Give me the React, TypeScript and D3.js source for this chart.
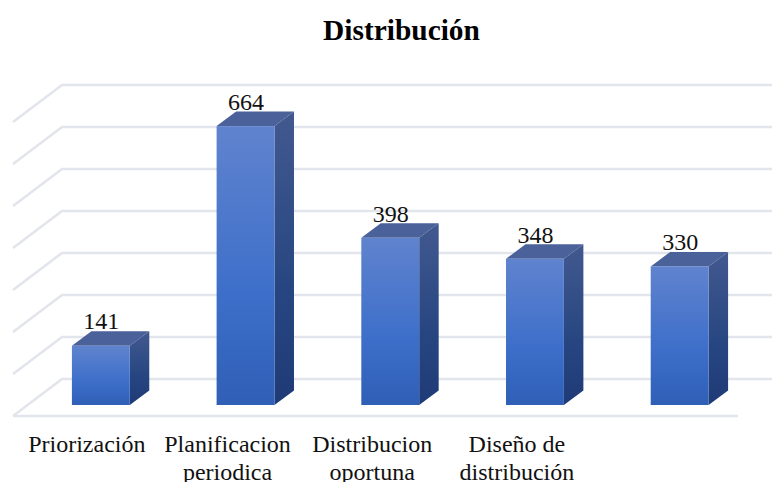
import { useEffect, useRef } from "react";
import * as d3 from "d3";

const categories = ["Priorización", "Planificacion", "Distribucion", "Diseño de", ""];
const categoriesLine2 = ["", "periodica", "oportuna", "distribución", ""];
const values = [141, 664, 398, 348, 330];
const gridTicks = [0, 100, 200, 300, 400, 500, 600, 700];

const WIDTH = 772;
const HEIGHT = 482;

export default function App() {
  const ref = useRef<SVGSVGElement>(null);

  useEffect(() => {
    const svg = d3.select(ref.current);
    svg.selectAll("*").remove();

    // back wall of the 3d box, bars sit a bit in front of it
    const yBack = d3.scaleLinear().domain([0, 700]).range([379, 85]);
    const yBar = d3.scaleLinear().domain([0, 700]).range([405, 111]);
    const xBand = d3
      .scaleBand()
      .domain(d3.range(categories.length).map(String))
      .range([28.5, 752])
      .paddingInner(0.6)
      .paddingOuter(0.3);
    const line = d3.line();

    const depthX = 19.5;
    const depthY = 14.5;
    const floorX = 49;
    const floorY = 37;

    const defs = svg.append("defs");
    const gradient = (id: string, stops: [number, string][]) => {
      const g = defs.append("linearGradient").attr("id", id).attr("x1", 0).attr("y1", 0).attr("x2", 0).attr("y2", 1);
      stops.forEach(([o, c]) => g.append("stop").attr("offset", o).attr("stop-color", c));
    };
    gradient("front", [[0, "#6083ce"], [0.6, "#3d6fca"], [1, "#2f5fb6"]]);
    gradient("side", [[0, "#42598f"], [0.6, "#274681"], [1, "#1f3b77"]]);

    // Gridlines
    gridTicks.forEach((t) => {
      const y = yBack(t);
      svg.append("path")
        .attr("d", line([[62 - floorX, y + floorY], [62, y], [772, y]]))
        .attr("fill", "none")
        .attr("stroke", "#e2e5eb")
        .attr("stroke-width", 2.6);
    });
    svg.append("line")
      .attr("x1", 62 - floorX).attr("x2", 738)
      .attr("y1", yBack(0) + floorY).attr("y2", yBack(0) + floorY)
      .attr("stroke", "#e2e5eb")
      .attr("stroke-width", 2.6);

    // Bars
    values.forEach((v, i) => {
      const x0 = xBand(String(i)) as number;
      const x1 = x0 + xBand.bandwidth();
      const top = yBar(v);
      const base = yBar(0);

      svg.append("path")
        .attr("d", line([[x0, top], [x0 + depthX, top - depthY], [x1 + depthX, top - depthY], [x1, top]]) + "Z")
        .attr("fill", "#4a6199");
      svg.append("path")
        .attr("d", line([[x1, top], [x1 + depthX, top - depthY], [x1 + depthX, base - depthY], [x1, base]]) + "Z")
        .attr("fill", "url(#side)");
      svg.append("rect")
        .attr("x", x0)
        .attr("y", top)
        .attr("width", xBand.bandwidth())
        .attr("height", base - top)
        .attr("fill", "url(#front)");

      svg.append("text")
        .text(v)
        .attr("x", (x0 + x1) / 2 + 0.5)
        .attr("y", top - 16.3)
        .attr("text-anchor", "middle")
        .attr("font-size", 24)
        .attr("fill", "#111");

      // Category labels, the first one sits a little closer to its bar
      const cx = (x0 + x1) / 2 - (i === 0 ? 14 : 18);
      svg.append("text")
        .text(categories[i])
        .attr("x", cx)
        .attr("y", 452)
        .attr("text-anchor", "middle")
        .attr("font-size", 24)
        .attr("fill", "#111");
      svg.append("text")
        .text(categoriesLine2[i])
        .attr("x", cx)
        .attr("y", 480)
        .attr("text-anchor", "middle")
        .attr("font-size", 24)
        .attr("fill", "#111");
    });

    // Title
    svg.append("text")
      .text("Distribución")
      .attr("x", 401.5)
      .attr("y", 40)
      .attr("text-anchor", "middle")
      .attr("font-size", 29.4)
      .attr("font-weight", "bold")
      .attr("fill", "#000");
  }, []);

  return (
    <svg
      ref={ref}
      width={WIDTH}
      height={HEIGHT}
      style={{ position: "absolute", left: 0, top: 0, fontFamily: "'Liberation Serif'", background: "#fff" }}
    />
  );
}
